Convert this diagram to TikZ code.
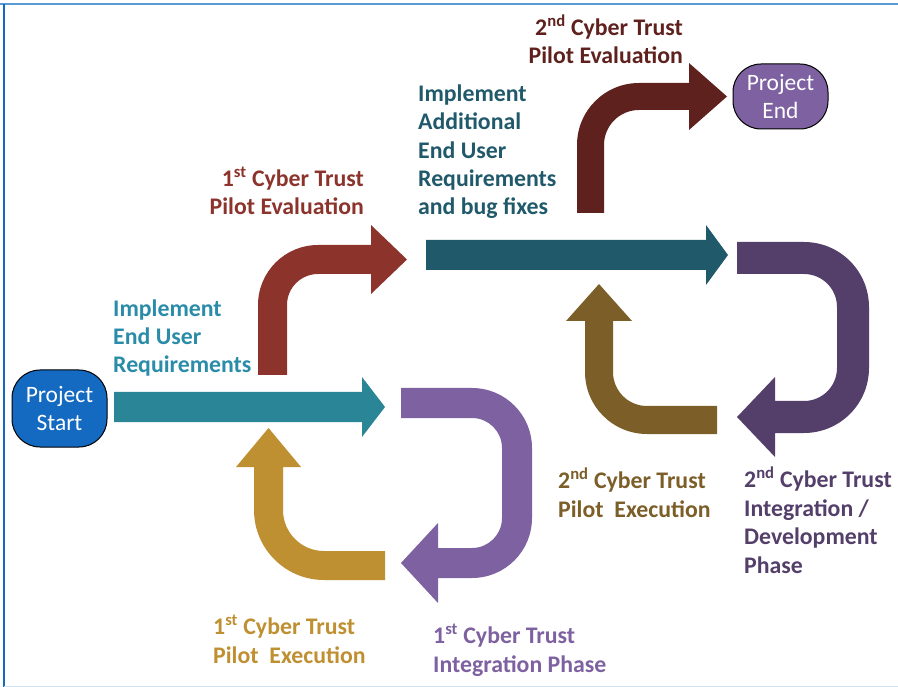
\documentclass[tikz,border=0pt]{standalone}
\usepackage{fontspec}
\setmainfont{Carlito}
\usepackage{xcolor}
\usepackage{tikz}
\usetikzlibrary{positioning}

\definecolor{startblue}{HTML}{1469C0}
\definecolor{tealA}{HTML}{2A8596}
\definecolor{tealtext}{HTML}{2A8CA8}
\definecolor{tealB}{HTML}{20596A}
\definecolor{redA}{HTML}{8C342C}
\definecolor{redB}{HTML}{5E211D}
\definecolor{goldA}{HTML}{BF9031}
\definecolor{brownB}{HTML}{7B5E28}
\definecolor{purpA}{HTML}{7D61A0}
\definecolor{purpB}{HTML}{533F69}
\definecolor{frameblue}{HTML}{5B9BD5}

\begin{document}
\begin{tikzpicture}[x=1pt, y=-1pt,
    font=\fontsize{23.5}{28.4}\selectfont,
    lbl/.style={inner sep=0pt, align=left, anchor=base west, font=\fontsize{23.8}{28.4}\selectfont\bfseries},
    terminal/.style={draw=black, line width=1pt, rounded corners=28pt, text=white,
      align=center, inner sep=0pt, minimum width=95pt}]
  \useasboundingbox (0,0) rectangle (898,687);
  % Frame
  \draw[frameblue, line width=1.5pt] (0,4) -- (898,4);
  \draw[startblue, line width=2pt] (4,4) -- (4,687);
  \draw[frameblue!30, line width=1pt] (4,686) -- (898,686);
  % Start and end
  \node[terminal, fill=startblue, minimum height=77pt] (start) at (59.5,408.5) {Project\\Start};
  \node[terminal, fill=purpA, minimum height=65pt] (finish) at (780.5,96.5) {Project\\End};
  % 1st loop: implement -> integration -> pilot execution
  \fill[tealA] (114,392) -- (362,392) -- (362,377) -- (385,407) -- (362,437) -- (362,422) -- (114,422) -- cycle;
  \fill[purpA] (401,388) -- (472,388) arc[start angle=-90, end angle=0, radius=60]
    -- (532,518) arc[start angle=0, end angle=90, radius=60]
    -- (438,578) -- (438,603) -- (401,563) -- (438,523) -- (438,548)
    -- (472,548) arc[start angle=90, end angle=0, radius=30]
    -- (502,448) arc[start angle=0, end angle=-90, radius=30] -- (401,418) -- cycle;
  \fill[goldA] (385,580) -- (324,580) arc[start angle=90, end angle=180, radius=70]
    -- (254,467) -- (236,467) -- (268.5,428) -- (301,467) -- (283,467)
    -- (283,510) arc[start angle=180, end angle=90, radius=41] -- (385,551) -- cycle;
  % 1st pilot evaluation
  \fill[redA] (258,375) -- (258,305) arc[start angle=180, end angle=270, radius=60]
    -- (371,245) -- (371,225) -- (407,259.5) -- (371,294) -- (371,274)
    -- (318,274) arc[start angle=270, end angle=180, radius=31] -- (287,375) -- cycle;
  % 2nd loop
  \fill[tealB] (426,240) -- (706,240) -- (706,225) -- (728,255) -- (706,285) -- (706,270) -- (426,270) -- cycle;
  \fill[purpB] (737,242) -- (804,242) arc[start angle=-90, end angle=0, radius=65]
    -- (869,368) arc[start angle=0, end angle=90, radius=65]
    -- (775,433) -- (775,457) -- (737,417) -- (775,377) -- (775,401)
    -- (804,401) arc[start angle=90, end angle=0, radius=33]
    -- (837,307) arc[start angle=0, end angle=-90, radius=33] -- (737,274) -- cycle;
  \fill[brownB] (717,434) -- (647,434) arc[start angle=90, end angle=180, radius=62]
    -- (585,321) -- (566,321) -- (599,284) -- (632,321) -- (613,321)
    -- (613,372) arc[start angle=180, end angle=90, radius=34] -- (717,406) -- cycle;
  % 2nd pilot evaluation
  \fill[redB] (577,213) -- (577,145) arc[start angle=180, end angle=270, radius=62]
    -- (689,83) -- (689,63) -- (727,96.5) -- (689,130) -- (689,110)
    -- (639,110) arc[start angle=270, end angle=180, radius=35] -- (604,213) -- cycle;
  % Labels (anchored at the baseline of their last line)
  \node[lbl, text=tealtext] (implA) at (113,373) {Implement\\End User\\Requirements};
  \node[lbl, text=redA, align=right, anchor=base east] (evalA) at (364,215) {1\textsuperscript{st} Cyber Trust\\Pilot Evaluation};
  \node[lbl, text=tealB] (implB) at (418,215) {Implement\\Additional\\End User\\Requirements\\and bug fixes};
  \node[lbl, text=redB, align=right, anchor=base east] (evalB) at (683,64) {2\textsuperscript{nd} Cyber Trust\\Pilot Evaluation};
  \node[lbl, text=brownB] (execB) at (558,517) {2\textsuperscript{nd} Cyber Trust\\Pilot\ \ Execution};
  \node[lbl, text=purpB] (integB) at (744,573) {2\textsuperscript{nd} Cyber Trust\\Integration /\\Development\\Phase};
  \node[lbl, text=goldA] (execA) at (213,663) {1\textsuperscript{st} Cyber Trust\\Pilot\ \ Execution};
  \node[lbl, text=purpA] (integA) at (433,672) {1\textsuperscript{st} Cyber Trust\\Integration Phase};
\end{tikzpicture}
\end{document}
